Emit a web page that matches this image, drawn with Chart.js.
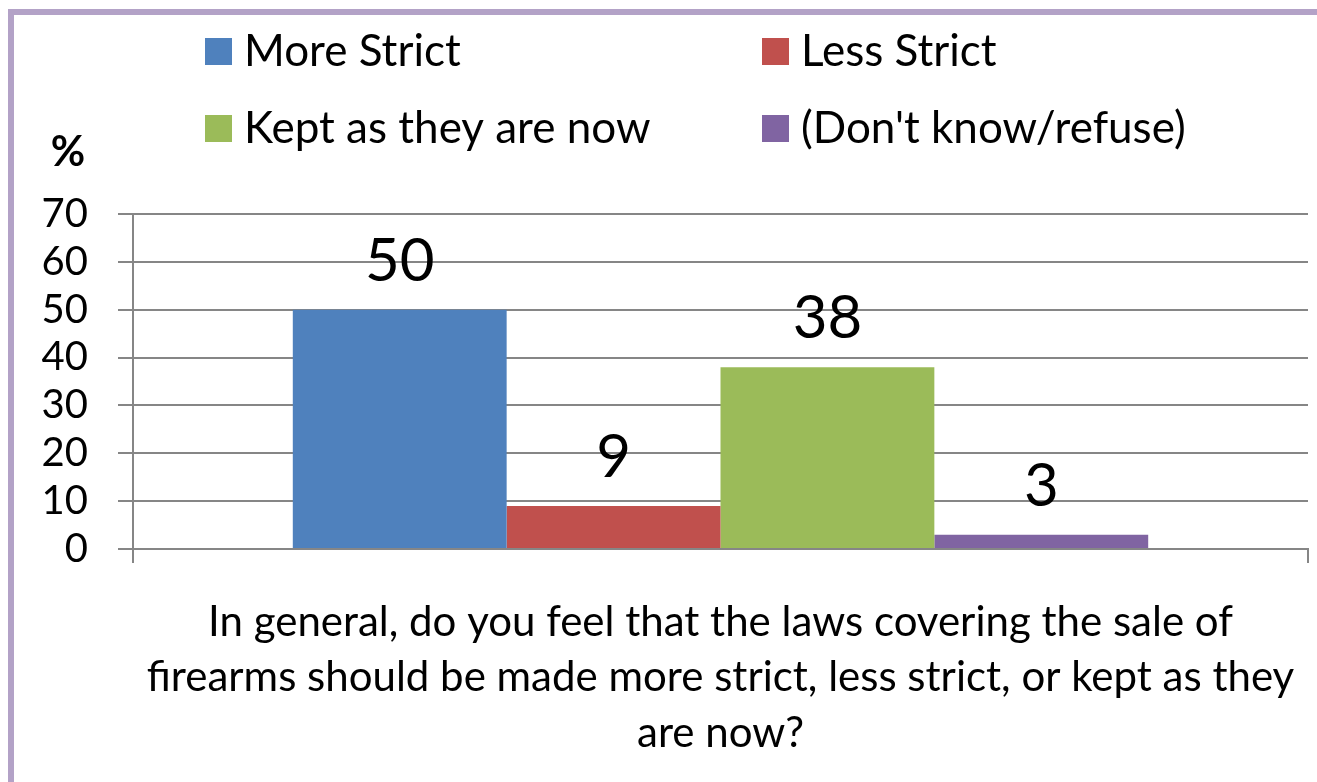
<!DOCTYPE html>
<html>
<head>
<meta charset="utf-8">
<script src="https://cdn.jsdelivr.net/npm/chart.js@4"></script>
<style>
html,body{margin:0;padding:0;background:#fff;}
#wrap{width:1317px;height:782px;position:relative;}
</style>
</head>
<body>
<div id="wrap"><canvas id="c" width="1317" height="782"></canvas></div>
<script>
const categories = [''];
const seriesNames = ['More Strict', 'Less Strict', 'Kept as they are now', "(Don't know/refuse)"];
const moreStrict = [50];
const lessStrict = [9];
const keptAsNow = [38];
const dontKnow = [3];
const seriesColors = ['#4F81BD', '#C0504D', '#9BBB59', '#8064A2'];
const yTicks = [0, 10, 20, 30, 40, 50, 60, 70];
const yUnit = '%';
const xTitle = ['In general, do you feel that the laws covering the sale of',
                'firearms should be made more strict, less strict, or kept as they',
                'are now?'];

const FONT = 'Lato, "Noto Sans", sans-serif';

const frame = {
  id: 'frame',
  beforeDraw(chart) {
    const ctx = chart.ctx;
    ctx.save();
    ctx.fillStyle = '#ffffff';
    ctx.fillRect(0, 0, chart.width, chart.height);
    ctx.fillStyle = '#B3A2C7';
    ctx.fillRect(8, 9, 6, chart.height - 9);
    ctx.fillRect(8, 9, chart.width - 8, 6);
    ctx.restore();
  },
  afterDraw(chart) {
    const ctx = chart.ctx;
    ctx.save();
    // legend (two columns)
    const colX = [205, 762];
    const rowY = [51, 128];
    chart.data.datasets.forEach((ds, i) => {
      const x = colX[i % 2];
      const y = rowY[Math.floor(i / 2)];
      ctx.fillStyle = ds.backgroundColor;
      ctx.fillRect(x, y - 13, 27, 27);
      ctx.fillStyle = '#000';
      ctx.font = '44px ' + FONT;
      ctx.textBaseline = 'middle';
      ctx.textAlign = 'left';
      ctx.fillText(ds.label, x + 39, y + 1);
    });
    // unit label
    ctx.font = 'bold 42px ' + FONT;
    ctx.textAlign = 'center';
    ctx.fillText(yUnit, 68, 152);
    // data labels
    ctx.font = '60px ' + FONT;
    chart.data.datasets.forEach((ds, i) => {
      const meta = chart.getDatasetMeta(i);
      meta.data.forEach((bar, j) => {
        ctx.fillText(String(ds.data[j]), bar.x, bar.y - 48);
      });
    });
    ctx.restore();
  }
};

new Chart(document.getElementById('c'), {
  type: 'bar',
  data: {
    labels: categories,
    datasets: [moreStrict, lessStrict, keptAsNow, dontKnow].map((d, i) => ({
      label: seriesNames[i],
      data: d,
      backgroundColor: seriesColors[i],
      borderWidth: 0,
      categoryPercentage: 0.728,
      barPercentage: 1.0
    }))
  },
  options: {
    responsive: false,
    animation: false,
    layout: { padding: { top: 214, right: 9, left: 0, bottom: 0 } },
    plugins: { legend: { display: false }, tooltip: { enabled: false } },
    scales: {
      x: {
        afterFit(s) { s.height = 233; },
        grid: { drawOnChartArea: false, offset: true, color: '#868686', lineWidth: 2, tickLength: 14 },
        border: { display: true, color: '#868686', width: 2 },
        ticks: { display: false },
        title: {
          display: true,
          text: xTitle,
          color: '#000',
          font: { family: FONT, size: 42, lineHeight: 1.32 },
          padding: { top: 0, bottom: 21 }
        }
      },
      y: {
        min: 0, max: 70,
        afterFit(s) { s.width = 133; },
        afterBuildTicks(s) { s.ticks = yTicks.map(v => ({ value: v })); },
        grid: { color: '#868686', lineWidth: 2, tickLength: 15 },
        border: { display: true, color: '#868686', width: 2 },
        ticks: { color: '#000', padding: 30, autoSkip: false, font: { family: FONT, size: 40 } }
      }
    }
  },
  plugins: [frame]
});
</script>
</body>
</html>
